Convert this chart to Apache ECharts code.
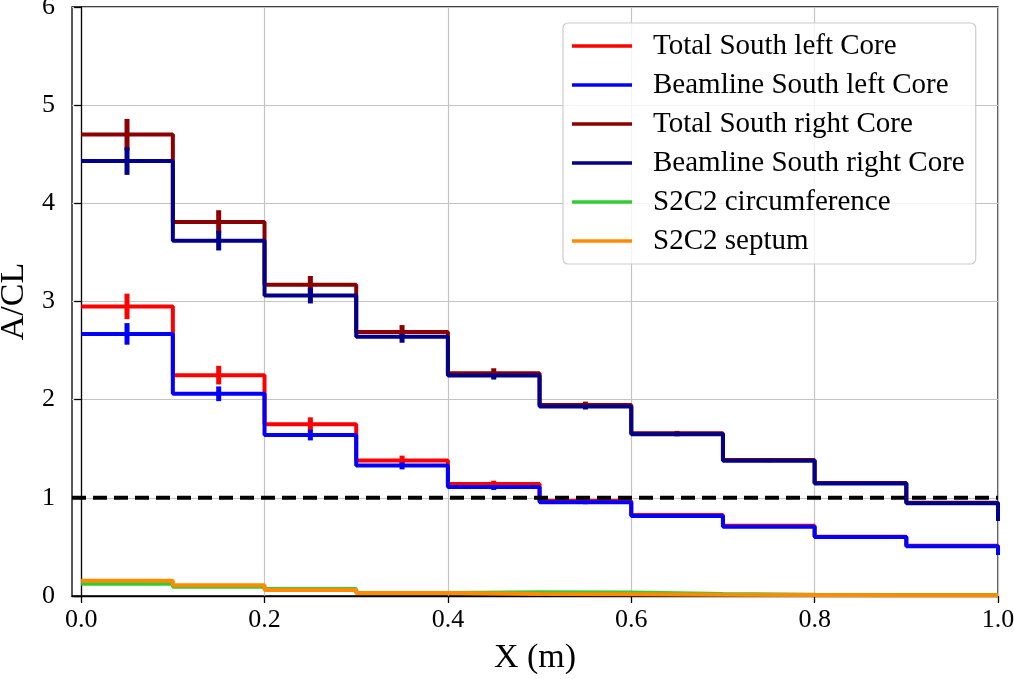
<!DOCTYPE html>
<html>
<head>
<meta charset="utf-8">
<script src="https://cdn.jsdelivr.net/npm/echarts@6/dist/echarts.min.js"></script>
<style>html,body{margin:0;padding:0;background:#fff;}#c{width:1014px;height:679px;}</style>
</head>
<body>
<div id="c"></div>
<script>
// Bin edges (left edges + final edge) and bin centers
const binEdges = [0.0, 0.1, 0.2, 0.3, 0.4, 0.5, 0.6, 0.7, 0.8, 0.9, 1.0];
const binCenters = [0.05, 0.15, 0.25, 0.35, 0.45, 0.55, 0.65, 0.75, 0.85, 0.95];
const xTicks = [0.0, 0.2, 0.4, 0.6, 0.8, 1.0];

// Step values (10 bins + value after last edge)
const totalLeft  = [2.95, 2.25, 1.75, 1.38, 1.14, 0.968, 0.825, 0.716, 0.604, 0.512, 0.425];
const beamLeft   = [2.67, 2.06, 1.64, 1.33, 1.11, 0.955, 0.815, 0.706, 0.600, 0.508, 0.418];
const totalRight = [4.70, 3.81, 3.17, 2.69, 2.27, 1.945, 1.657, 1.385, 1.150, 0.950, 0.765];
const beamRight  = [4.43, 3.62, 3.06, 2.64, 2.245, 1.930, 1.647, 1.378, 1.145, 0.944, 0.764];
const circumference = [0.125, 0.095, 0.072, 0.030, 0.037, 0.035, 0.020, 0.012, 0.010, 0.010, 0.010];
const septum        = [0.155, 0.110, 0.060, 0.030, 0.020, 0.018, 0.012, 0.010, 0.008, 0.008, 0.008];

// Error bars at bin centers
const totalLeftErr  = [0.13, 0.095, 0.07, 0.05, 0.035, 0.025, 0.018, 0.014, 0.010, 0.008];
const beamLeftErr   = [0.11, 0.075, 0.055, 0.04, 0.030, 0.020, 0.015, 0.012, 0.010, 0.008];
const totalRightErr = [0.16, 0.12, 0.09, 0.07, 0.050, 0.035, 0.025, 0.020, 0.015, 0.012];
const beamRightErr  = [0.14, 0.10, 0.08, 0.06, 0.040, 0.030, 0.020, 0.015, 0.012, 0.010];

const refLevel = 1.0;

const FONT = 'Liberation Serif';

function stepSeries(name, vals, color) {
  return {
    name: name, type: 'line', step: 'end', symbol: 'none',
    data: binEdges.map((x, i) => [x, vals[i]]),
    lineStyle: { color: color, width: 4 },
    itemStyle: { color: color },
    clip: true
  };
}
function errSeries(vals, errs, color) {
  return {
    type: 'custom',
    data: binCenters.map((x, i) => [x, vals[i], errs[i]]),
    renderItem: function (params, api) {
      const x = api.value(0), v = api.value(1), e = api.value(2);
      const p1 = api.coord([x, v - e]);
      const p2 = api.coord([x, v + e]);
      return { type: 'line', shape: { x1: p1[0], y1: p1[1], x2: p2[0], y2: p2[1] },
               style: { stroke: color, lineWidth: 5 } };
    },
    encode: { x: 0, y: 1 },
    silent: true
  };
}

const C = { red: '#ff0000', blue: '#0000ff', dred: '#8b0000', navy: '#00008b', green: '#32cd32', orange: '#ff8c00' };

const names = ['Total South left Core', 'Beamline South left Core', 'Total South right Core',
               'Beamline South right Core', 'S2C2 circumference', 'S2C2 septum'];

const option = {
  animation: false,
  backgroundColor: '#fff',
  textStyle: { fontFamily: FONT },
  grid: { left: 72, right: 16, top: 7, bottom: 83, containLabel: false, outerBoundsMode: 'none',
          show: true, borderColor: '#000', borderWidth: 1.3, backgroundColor: 'transparent' },
  xAxis: {
    type: 'value', min: -0.01, max: 1.0,
    name: 'X (m)', nameLocation: 'middle', nameGap: 45,
    nameTextStyle: { fontFamily: FONT, fontSize: 34, color: '#000' },
    axisLine: { show: true, lineStyle: { color: '#000', width: 1.3 } },
    axisTick: { show: true, length: 7, customValues: xTicks, lineStyle: { color: '#000', width: 1.3 } },
    axisLabel: { customValues: xTicks, margin: 11, fontFamily: FONT, fontSize: 26, color: '#000',
                 formatter: v => v.toFixed(1) },
    splitLine: { show: true, lineStyle: { color: '#c4c4c4', width: 1.2 } }
  },
  yAxis: {
    type: 'value', min: 0, max: 6, interval: 1,
    name: 'A/CL', nameLocation: 'middle', nameGap: 31, nameRotate: 90,
    nameTextStyle: { fontFamily: FONT, fontSize: 34, color: '#000' },
    axisLine: { show: true, lineStyle: { color: '#000', width: 1.3 } },
    axisTick: { show: true, length: 7, lineStyle: { color: '#000', width: 1.3 } },
    axisLabel: { margin: 17, fontFamily: FONT, fontSize: 26, color: '#000' },
    splitLine: { show: true, lineStyle: { color: '#c4c4c4', width: 1.2 } }
  },
  legend: {
    data: names,
    orient: 'vertical', left: 563, top: 23,
    padding: [8, 11, 8, 9],
    icon: 'rect', itemWidth: 60, itemHeight: 3.5, itemGap: 9,
    backgroundColor: 'rgba(255,255,255,0.8)', borderColor: '#cccccc', borderWidth: 1.2, borderRadius: 5,
    textStyle: { fontFamily: FONT, fontSize: 29, color: '#000', lineHeight: 30, padding: [0, 0, 0, 16] }
  },
  series: [
    stepSeries(names[0], totalLeft, C.red),
    errSeries(totalLeft, totalLeftErr, C.red),
    stepSeries(names[1], beamLeft, C.blue),
    errSeries(beamLeft, beamLeftErr, C.blue),
    stepSeries(names[2], totalRight, C.dred),
    errSeries(totalRight, totalRightErr, C.dred),
    stepSeries(names[3], beamRight, C.navy),
    errSeries(beamRight, beamRightErr, C.navy),
    stepSeries(names[4], circumference, C.green),
    stepSeries(names[5], septum, C.orange),
    {
      type: 'line', symbol: 'none', silent: true,
      data: [[-0.01, refLevel], [1.0, refLevel]],
      lineStyle: { color: '#000', width: 4, type: [14, 7] }
    }
  ]
};

const chart = echarts.init(document.getElementById('c'), null, { renderer: 'canvas' });
chart.setOption(option);
</script>
</body>
</html>
